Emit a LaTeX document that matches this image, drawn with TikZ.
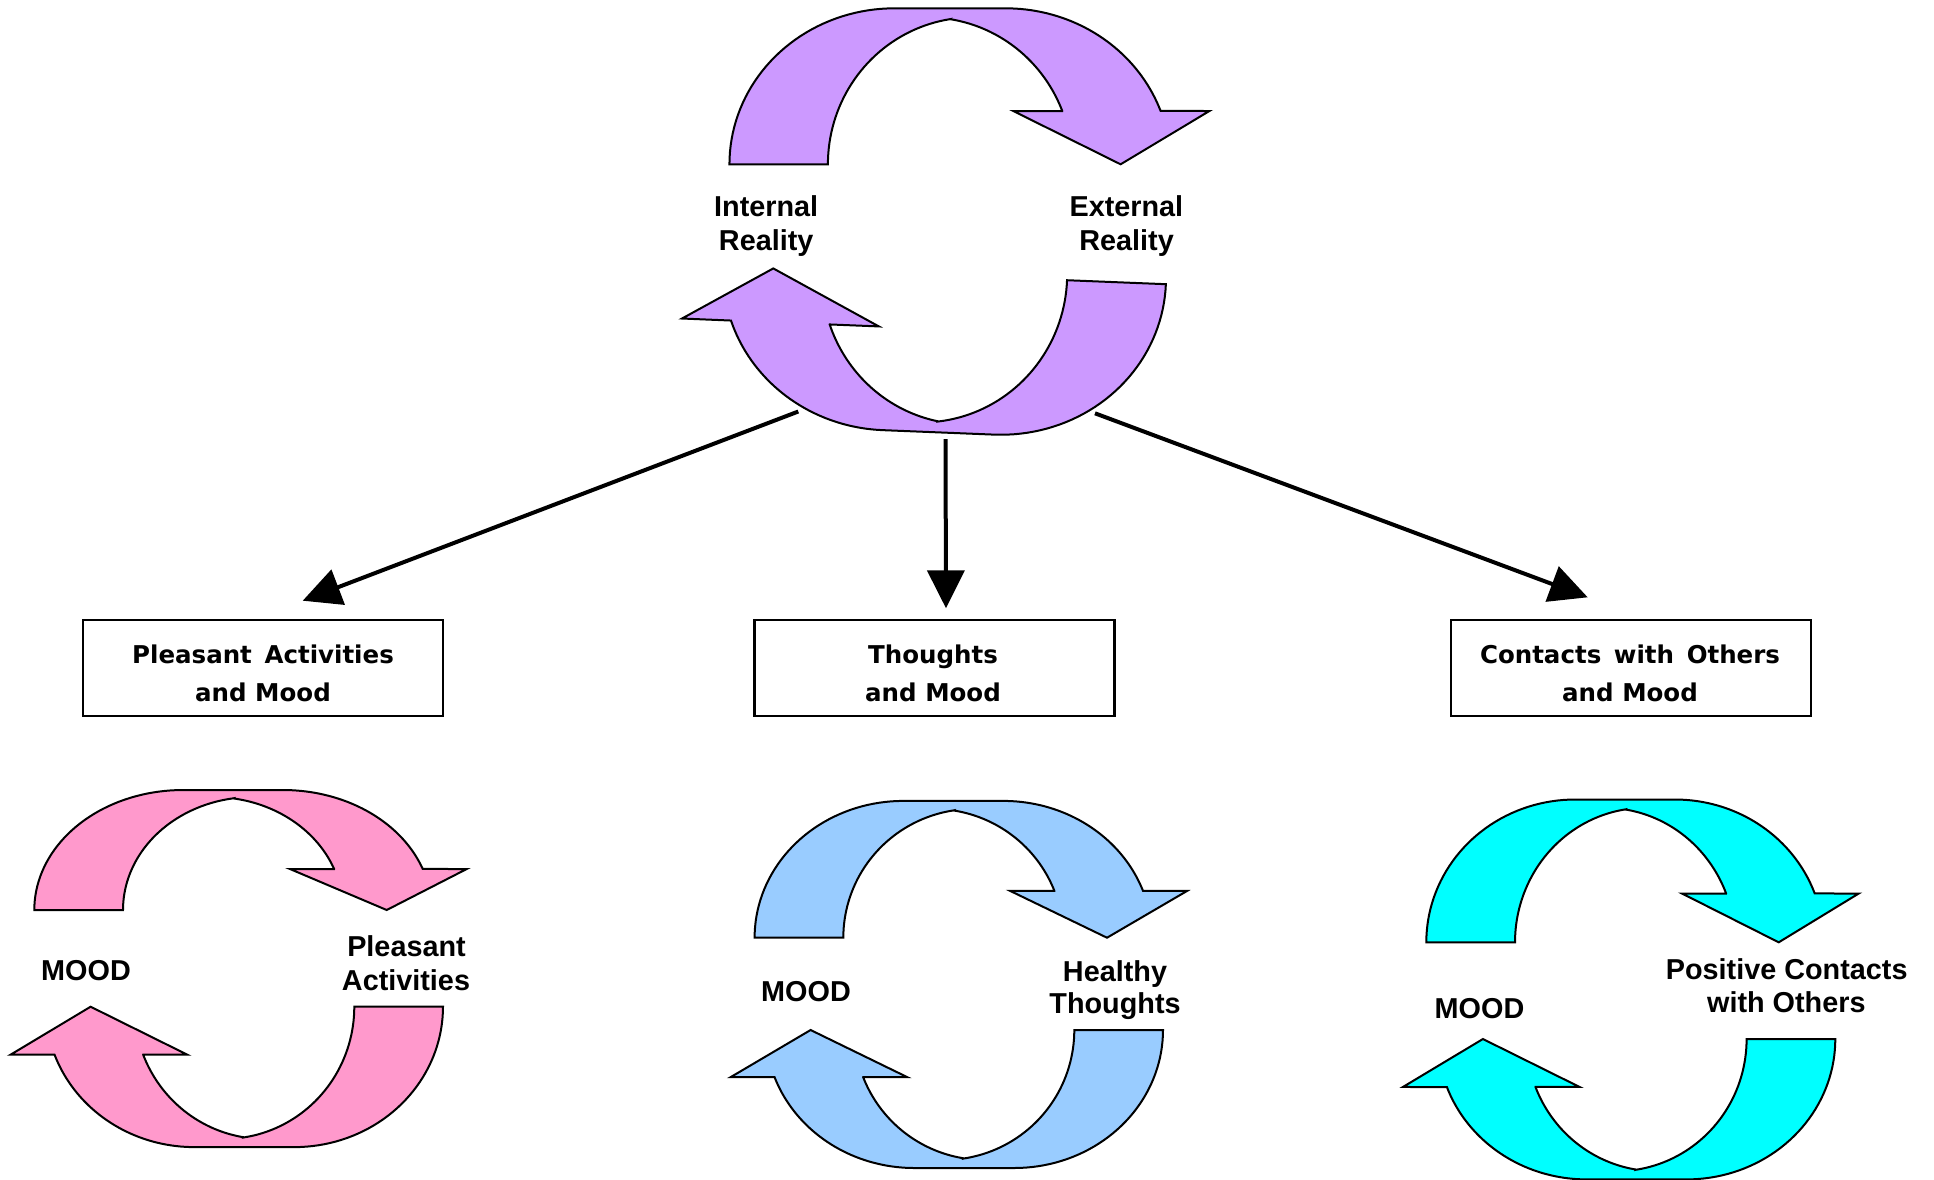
\documentclass[tikz,border=0pt]{standalone}
\usepackage{fontspec}
\setmainfont{Liberation Sans}
\newfontfamily\boxfont{DejaVu Sans}
\usetikzlibrary{arrows.meta}
\definecolor{cpurple}{RGB}{204,153,255}
\definecolor{cpink}{RGB}{255,153,204}
\definecolor{cblue}{RGB}{153,204,255}
\definecolor{ccyan}{RGB}{0,255,255}
\tikzset{
  cyc/.pic={
    \path[pic actions] (-198.7,0)
      -- plot[domain=180:90, samples=40] ({-50+148.7*cos(\x)},{120*sin(\x)})
      -- (50,120)
      -- plot[domain=90:20, samples=40] ({50+148.7*cos(\x)},{120*sin(\x)})
      -- (233.7,41) -- (153.7,0) -- (57,41) -- (101.1,41)
      -- plot[domain=21.3:81.15, samples=40] ({-20+130*cos(\x)},{113*sin(\x)})
      -- plot[domain=98.85:180, samples=40] ({20+130*cos(\x)},{113*sin(\x)})
      -- cycle;
  },
  cycshape/.style={draw=black, line width=2pt, line join=miter},
  lbl/.style={anchor=base, inner sep=0pt, font=\bfseries\fontsize{28.8}{33}\selectfont},
  boxtext/.style={anchor=base, inner sep=0pt, font=\boxfont\bfseries\fontsize{24.5}{38.4}\selectfont},
  topicbox/.style={draw=black, line width=2.5pt, minimum width=360pt, minimum height=96pt, inner sep=0pt},
  conn/.style={line width=4pt, -{Triangle[length=38pt, width=37pt]}},
}
\begin{document}
\begin{tikzpicture}[x=1pt, y=-1pt]
\useasboundingbox (0,0) rectangle (1934,1179);

% top cycle
\pic[cycshape, fill=cpurple, shift={(950,164.3)}, xscale=1.11, yscale=-1.3] {cyc};
\pic[cycshape, fill=cpurple, shift={(944.5,275.3)}, rotate=-2.3, xscale=-1.115, yscale=1.31] {cyc};
\node[lbl] (ir1) at (766.2,216.7) {Internal};
\node[lbl] (ir2) at (766.2,250) {Reality};
\node[lbl] (er1) at (1126.4,216.7) {External};
\node[lbl] (er2) at (1126.6,250) {Reality};

% boxes
\node[topicbox] (b1) at (263,668) {};
\node[topicbox] (b2) at (934.7,668) {};
\node[topicbox] (b3) at (1631,668) {};
\node[boxtext] (b1a) at (263,663.3) {Pleasant\, Activities};
\node[boxtext] (b1b) at (263,701.7) {and Mood};
\node[boxtext] (b2a) at (933,663.3) {Thoughts};
\node[boxtext] (b2b) at (933,701.7) {and Mood};
\node[boxtext] (b3a) at (1630,663.3) {Contacts\, with\, Others};
\node[boxtext] (b3b) at (1630,701.7) {and Mood};

% connectors
\coordinate (s1) at (798.3,411.5);
\coordinate (s2) at (945.5,439);
\coordinate (s3) at (1095,413.3);
\coordinate (t1) at (302.7,600.7);
\coordinate (t2) at (946,608.3);
\coordinate (t3) at (1587.7,597.3);
\draw[conn] (s1) -- (t1);
\draw[conn] (s2) -- (t2);
\draw[conn] (s3) -- (t3);

% pink cycle
\pic[cycshape, fill=cpink, shift={(233,910)}, xscale=1, yscale=-1] {cyc};
\pic[cycshape, fill=cpink, shift={(244.3,1006.7)}, xscale=-1, yscale=1.17] {cyc};
\node[lbl] (m1) at (86,980) {MOOD};
\node[lbl] (pa1) at (406.5,956.7) {Pleasant};
\node[lbl] (pa2) at (406,990) {Activities};

% blue cycle
\pic[cycshape, fill=cblue, shift={(953.3,937.7)}, xscale=1, yscale=-1.14] {cyc};
\pic[cycshape, fill=cblue, shift={(964.3,1030)}, xscale=-1, yscale=1.15] {cyc};
\node[lbl] (m2) at (806,1001.7) {MOOD};
\node[lbl] (ht1) at (1115,981.7) {Healthy};
\node[lbl] (ht2) at (1115,1013.3) {Thoughts};

% cyan cycle
\pic[cycshape, fill=ccyan, shift={(1625,942.3)}, xscale=1, yscale=-1.19] {cyc};
\pic[cycshape, fill=ccyan, shift={(1636.6,1039)}, xscale=-1, yscale=1.17] {cyc};
\node[lbl] (m3) at (1479.5,1018.3) {MOOD};
\node[lbl] (pc1) at (1786.7,979) {Positive Contacts};
\node[lbl] (pc2) at (1786.3,1012.3) {with Others};
\end{tikzpicture}
\end{document}
